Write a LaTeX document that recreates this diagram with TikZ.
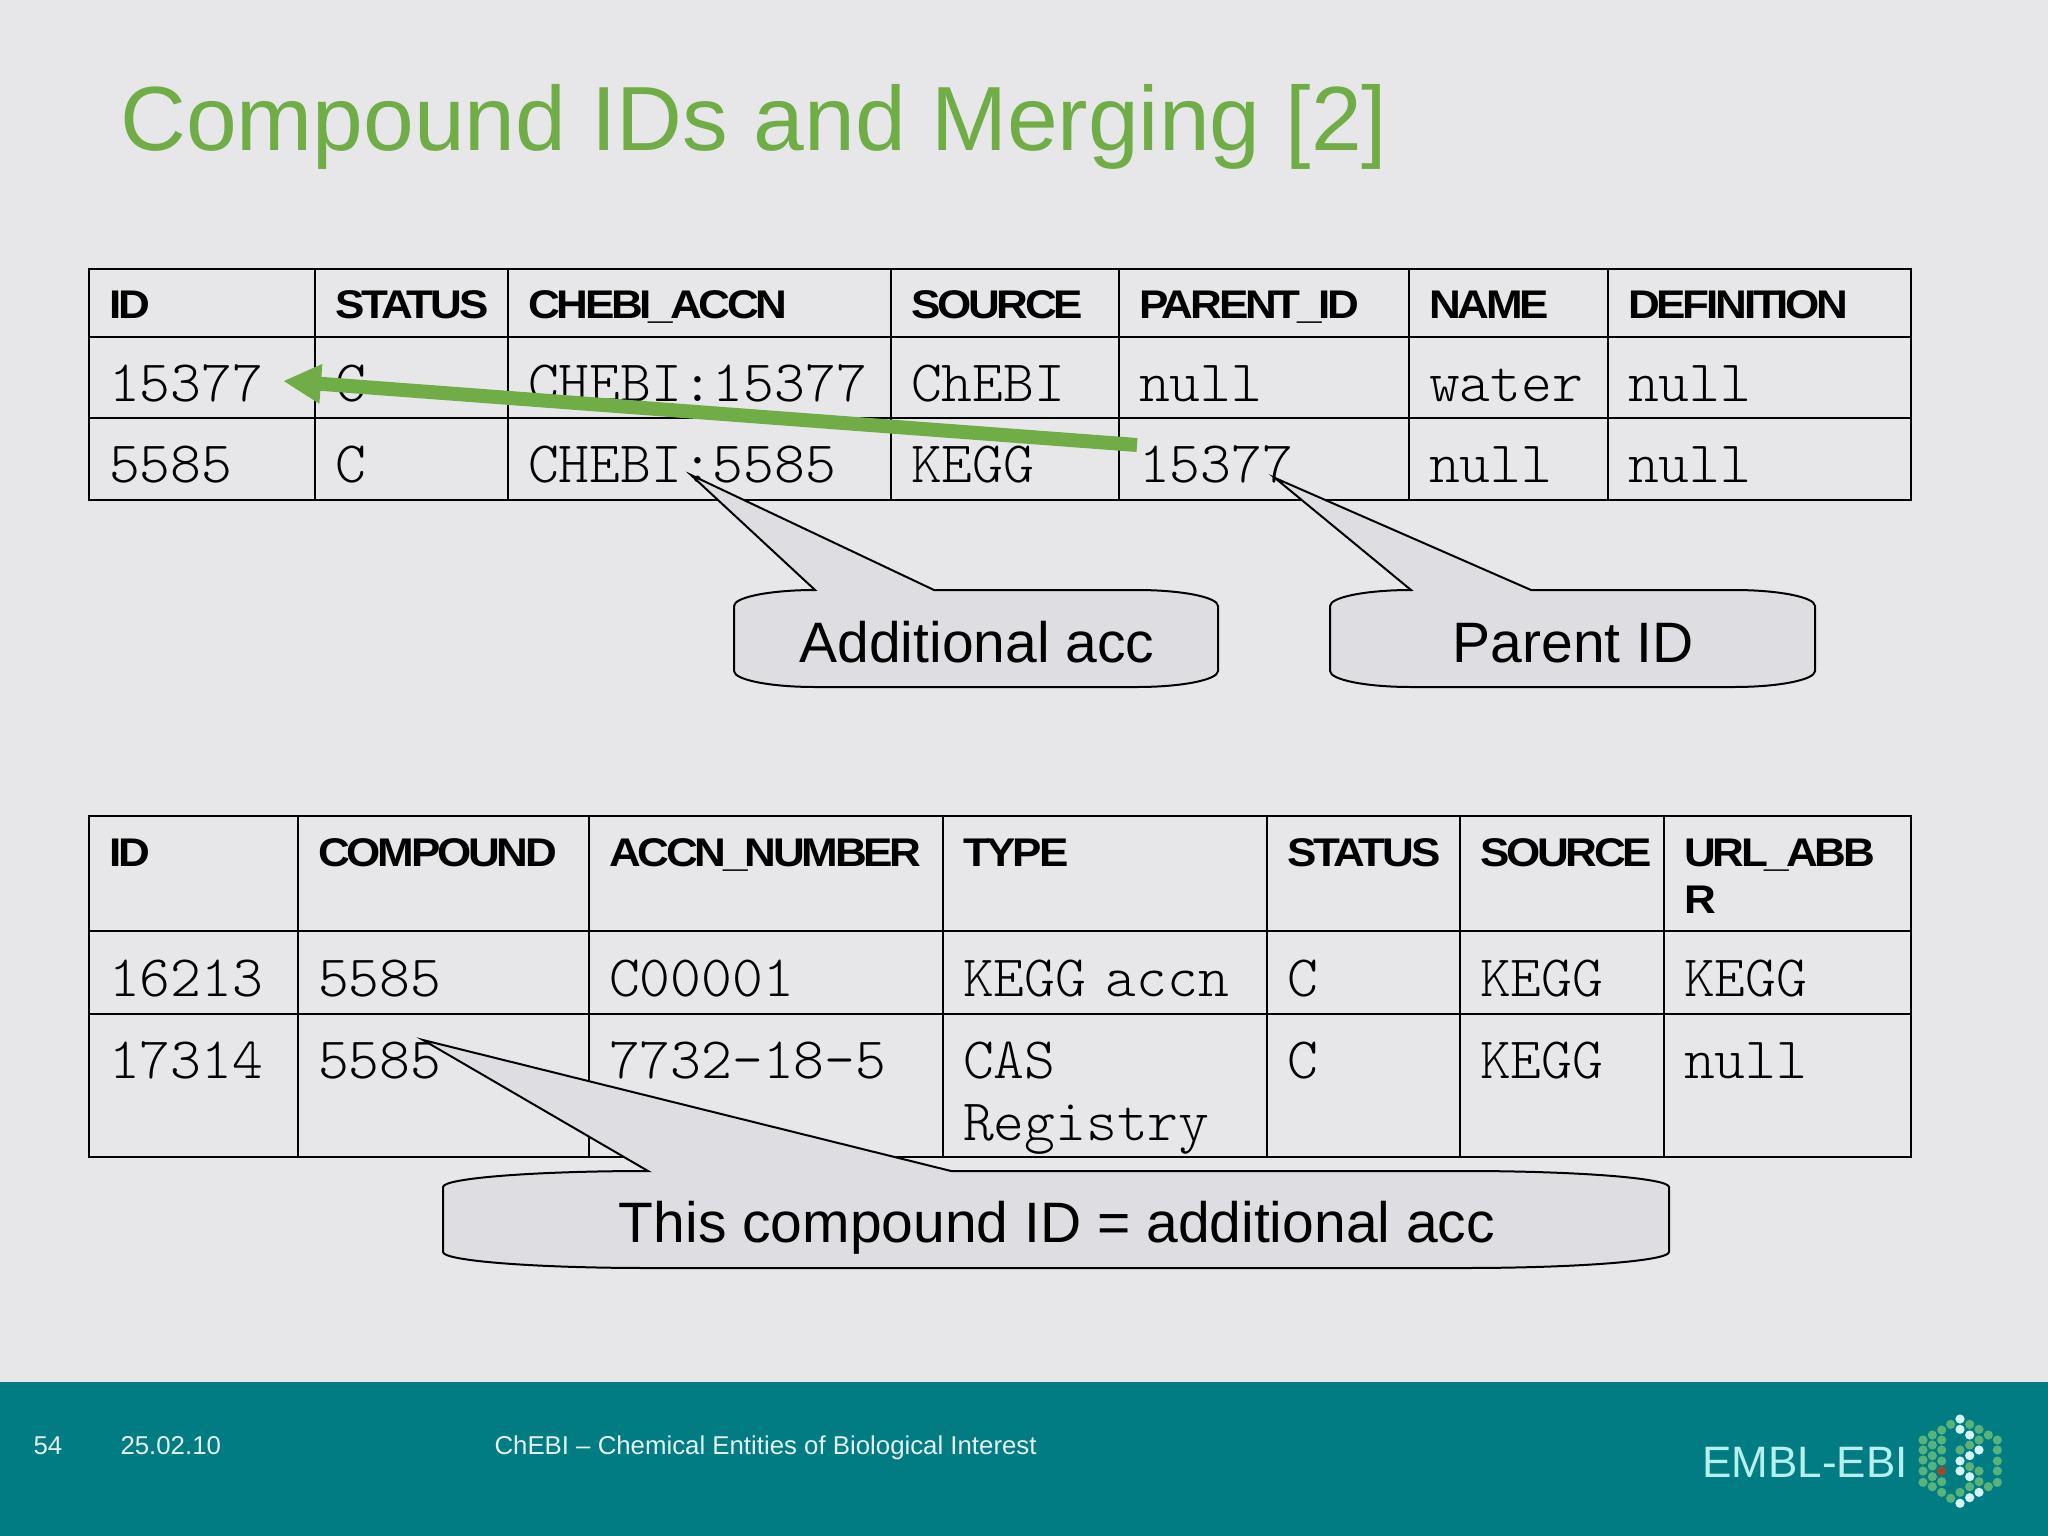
\documentclass[tikz,border=0pt]{standalone}
\usepackage{fontspec}
\usepackage{tikz}
\usepackage{xcolor}
\usetikzlibrary{positioning,arrows.meta}
\setmainfont{Liberation Sans}
\setmonofont[WordSpace=1.33]{Latin Modern Mono Light}
\newfontfamily\headfam[LetterSpace=-8,FakeStretch=1.1]{Liberation Sans}
\definecolor{slidegray}{RGB}{231,231,234}
\definecolor{bubblegray}{RGB}{222,222,226}
\definecolor{titlegreen}{RGB}{112,173,71}
\definecolor{footteal}{RGB}{0,124,130}
\definecolor{logocyan}{RGB}{181,240,238}
\definecolor{footwhite}{RGB}{228,242,243}
\definecolor{dotgreen}{RGB}{88,178,122}
\newcommand{\cellfont}{\fontsize{58.7pt}{62pt}\selectfont\ttfamily}
\newcommand{\hfont}{\fontsize{40pt}{47pt}\selectfont\headfam\bfseries}
\tikzstyle{cell} = [rectangle, draw, inner xsep=20pt, inner ysep=0pt, outer sep=0pt, line width=2.8pt, align=left]
\tikzstyle{hcell} = [cell, font=\hfont, text height=49pt]
\tikzstyle{dcell} = [cell, font=\cellfont, text height=64pt]
\tikzstyle{bubble} = [draw, fill=bubblegray, line width=2pt, line join=miter]
\tikzstyle{bubtext} = [anchor=base, font=\fontsize{57pt}{60pt}\selectfont]
\tikzstyle{foot} = [anchor=base west, text=footwhite, font=\fontsize{25.8pt}{30pt}\selectfont]
\tikzset{colw/.style={text width=#1-40pt}, rowd/.style={text depth=#1}}

\begin{document}
\begin{tikzpicture}[x=1pt,y=-1pt]
  \useasboundingbox (0,0) rectangle (2048,1536);
  \fill[slidegray] (0,0) rectangle (2048,1536);
  \fill[footteal] (0,1382) rectangle (2048,1536);
  \node (title) [anchor=base west, inner sep=0pt, text=titlegreen, font=\fontsize{91.2pt}{96pt}\selectfont] at (120,150) {Compound IDs and Merging [2]};

  % first table
  \node[hcell, colw=226, rowd=19pt, anchor=north west] (A_id) at (89,269) {ID};
  \node[hcell, colw=193, rowd=19pt] (A_status) [right=0pt of A_id] {STATUS};
  \node[hcell, colw=383, rowd=19pt] (A_accn) [right=0pt of A_status] {CHEBI\_ACCN};
  \node[hcell, colw=228, rowd=19pt] (A_source) [right=0pt of A_accn] {SOURCE};
  \node[hcell, colw=290, rowd=19pt] (A_parent) [right=0pt of A_source] {PARENT\_ID};
  \node[hcell, colw=199, rowd=19pt] (A_name) [right=0pt of A_parent] {NAME};
  \node[hcell, colw=303, rowd=19pt] (A_def) [right=0pt of A_name] {DEFINITION};

  \node[dcell, colw=226, rowd=17pt] (B_id) [below=0pt of A_id] {15377};
  \node[dcell, colw=193, rowd=17pt] (B_status) [right=0pt of B_id] {C};
  \node[dcell, colw=383, rowd=17pt] (B_accn) [right=0pt of B_status] {CHEBI:15377};
  \node[dcell, colw=228, rowd=17pt] (B_source) [right=0pt of B_accn] {ChEBI};
  \node[dcell, colw=290, rowd=17pt] (B_parent) [right=0pt of B_source] {null};
  \node[dcell, colw=199, rowd=17pt] (B_name) [right=0pt of B_parent] {water};
  \node[dcell, colw=303, rowd=17pt] (B_def) [right=0pt of B_name] {null};

  \node[dcell, colw=226, rowd=18pt] (C_id) [below=0pt of B_id] {5585};
  \node[dcell, colw=193, rowd=18pt] (C_status) [right=0pt of C_id] {C};
  \node[dcell, colw=383, rowd=18pt] (C_accn) [right=0pt of C_status] {CHEBI:5585};
  \node[dcell, colw=228, rowd=18pt] (C_source) [right=0pt of C_accn] {KEGG};
  \node[dcell, colw=290, rowd=18pt] (C_parent) [right=0pt of C_source] {15377};
  \node[dcell, colw=199, rowd=18pt] (C_name) [right=0pt of C_parent] {null};
  \node[dcell, colw=303, rowd=18pt] (C_def) [right=0pt of C_name] {null};

  % second table
  \node[hcell, colw=209, text height=50pt, rowd=65pt, anchor=north west] (D_id) at (89,816) {ID};
  \node[hcell, colw=291, text height=50pt, rowd=65pt] (D_comp) [right=0pt of D_id] {COMPOUND};
  \node[hcell, colw=354, text height=50pt, rowd=65pt] (D_accn) [right=0pt of D_comp] {ACCN\_NUMBER};
  \node[hcell, colw=324, text height=50pt, rowd=65pt] (D_type) [right=0pt of D_accn] {TYPE};
  \node[hcell, colw=193, text height=50pt, rowd=65pt] (D_status) [right=0pt of D_type] {STATUS};
  \node[hcell, colw=204, text height=50pt, rowd=65pt] (D_source) [right=0pt of D_status] {SOURCE};
  \node[hcell, colw=247, text height=50pt, rowd=65pt] (D_url) [right=0pt of D_source] {URL\_ABB\\R};

  \node[dcell, colw=209, text height=65pt, rowd=18pt] (E_id) [below=0pt of D_id] {16213};
  \node[dcell, colw=291, text height=65pt, rowd=18pt] (E_comp) [right=0pt of E_id] {5585};
  \node[dcell, colw=354, text height=65pt, rowd=18pt] (E_accn) [right=0pt of E_comp] {C00001};
  \node[dcell, colw=324, text height=65pt, rowd=18pt] (E_type) [right=0pt of E_accn] {KEGG accn};
  \node[dcell, colw=193, text height=65pt, rowd=18pt] (E_status) [right=0pt of E_type] {C};
  \node[dcell, colw=204, text height=65pt, rowd=18pt] (E_source) [right=0pt of E_status] {KEGG};
  \node[dcell, colw=247, text height=65pt, rowd=18pt] (E_url) [right=0pt of E_source] {KEGG};

  \node[dcell, colw=209, rowd=79pt] (F_id) [below=0pt of E_id] {17314};
  \node[dcell, colw=291, rowd=79pt] (F_comp) [right=0pt of F_id] {5585};
  \node[dcell, colw=354, rowd=79pt] (F_accn) [right=0pt of F_comp] {7732-18-5};
  \node[dcell, colw=324, rowd=79pt] (F_type) [right=0pt of F_accn] {CAS\\Registry};
  \node[dcell, colw=193, rowd=79pt] (F_status) [right=0pt of F_type] {C};
  \node[dcell, colw=204, rowd=79pt] (F_source) [right=0pt of F_status] {KEGG};
  \node[dcell, colw=247, rowd=79pt] (F_url) [right=0pt of F_source] {null};

  % callouts
  \coordinate (acc_tip) at (691,475);
  \coordinate (parent_tip) at (1275,478);
  \coordinate (same_tip) at (423,1040);
  \draw[bubble] (acc_tip) -- (815,590) arc[start angle=90,end angle=180,x radius=81pt,y radius=16pt] -- (734,671) arc[start angle=180,end angle=270,x radius=81pt,y radius=16pt] -- (1137,687) arc[start angle=270,end angle=360,x radius=81pt,y radius=16pt] -- (1218,606) arc[start angle=0,end angle=90,x radius=81pt,y radius=16pt] -- (934,590) -- cycle;
  \draw[bubble] (parent_tip) -- (1411,590) arc[start angle=90,end angle=180,x radius=81pt,y radius=16pt] -- (1330,671) arc[start angle=180,end angle=270,x radius=81pt,y radius=16pt] -- (1734,687) arc[start angle=270,end angle=360,x radius=81pt,y radius=16pt] -- (1815,606) arc[start angle=0,end angle=90,x radius=81pt,y radius=16pt] -- (1531,590) -- cycle;
  \draw[bubble] (same_tip) -- (648,1171) arc[start angle=90,end angle=180,x radius=205pt,y radius=16pt] -- (443,1252) arc[start angle=180,end angle=270,x radius=205pt,y radius=16pt] -- (1464,1268) arc[start angle=270,end angle=360,x radius=205pt,y radius=16pt] -- (1669,1187) arc[start angle=0,end angle=90,x radius=205pt,y radius=16pt] -- (951,1171) -- cycle;
  \node[bubtext] (acc_note) at (977,662) {Additional acc};
  \node[bubtext] (parent_note) at (1573,662) {Parent ID};
  \node[bubtext] (same_note) at (1057,1242) {This compound ID = additional acc};

  % green arrow
  \coordinate (arrow_from) at (1137,445);
  \coordinate (arrow_to) at (283,381);
  \draw[-{Triangle[length=38pt,width=37pt]}, titlegreen, line width=14pt] (arrow_from) -- (arrow_to);

  % footer
  \node[foot] (page_no) at (30,1454) {54};
  \node[foot] (date) at (117,1454) {25.02.10};
  \node[foot] (foot_title) at (491,1454) {ChEBI -- Chemical Entities of Biological Interest};
  \node (logo_text) [anchor=base west, inner sep=0pt, text=logocyan, font=\fontsize{44pt}{46pt}\selectfont] at (1702,1477) {EMBL-EBI};
  \begin{scope}[shift={(1910,1405)},x=0.3333pt,y=-0.3333pt]
    \foreach \px/\ylist in {39/{105,135,165,198,232},67/{90,120,152,183,215,245},95/{75,105,135,168,230,262},122/{58,280},150/{135,262},179/{58,120,185,245},207/{73,105,198,230},235/{90,245},262/{105,135,168,198,232}}
      \foreach \py in \ylist
        \fill[dotgreen] (\px,\py) circle (4.6pt);
    \foreach \px/\ylist in {150/{42,73,168,198,295},179/{90,152,215,278},207/{135,262}}
      \foreach \py in \ylist
        \fill[logocyan!60!white] (\px,\py) circle (4.6pt);
    \fill[red!55!dotgreen!90!black] (95,198) circle (4.6pt);
  \end{scope}
\end{tikzpicture}
\end{document}
